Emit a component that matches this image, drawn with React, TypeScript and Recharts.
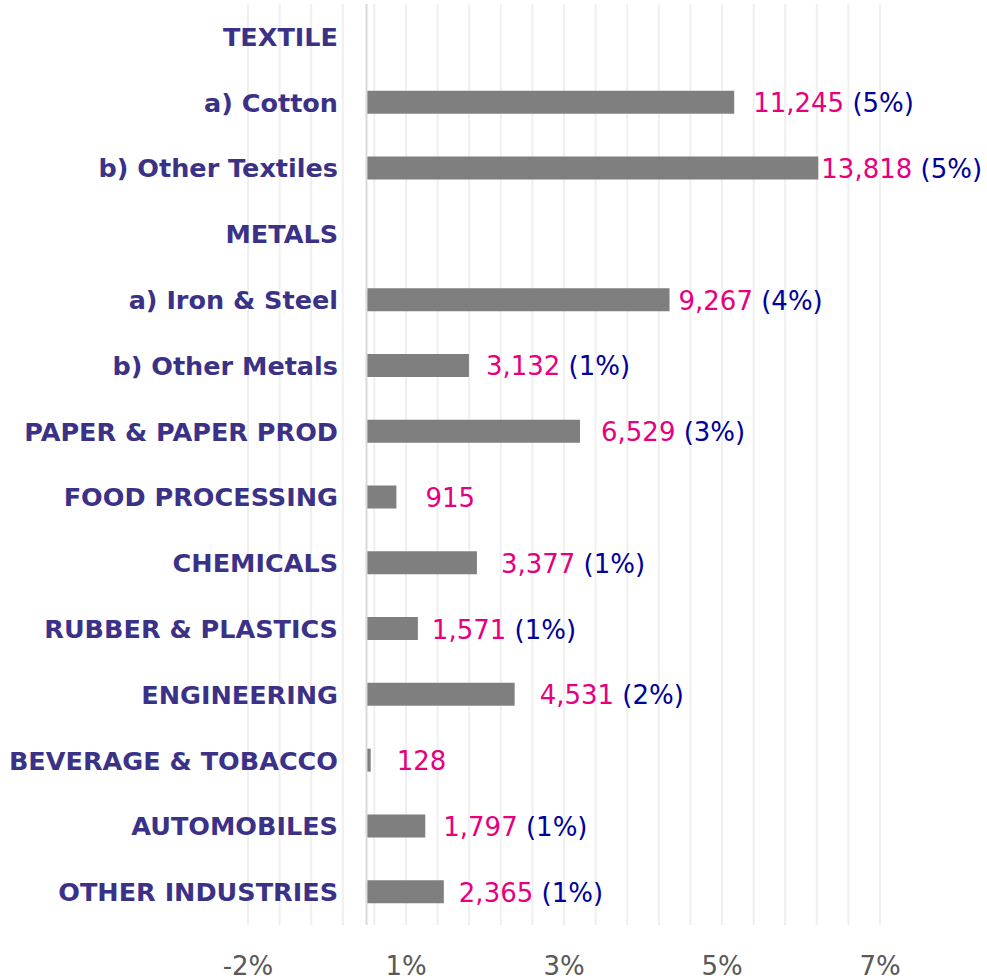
import React from "react";
import {
  BarChart,
  Bar,
  XAxis,
  YAxis,
  CartesianGrid,
  ReferenceLine,
  LabelList,
} from "recharts";

// ---------- data ----------
const CATEGORIES: string[] = [
  "TEXTILE",
  "a) Cotton",
  "b) Other Textiles",
  "METALS",
  "a) Iron & Steel",
  "b) Other Metals",
  "PAPER & PAPER PROD",
  "FOOD PROCESSING",
  "CHEMICALS",
  "RUBBER & PLASTICS",
  "ENGINEERING",
  "BEVERAGE & TOBACCO",
  "AUTOMOBILES",
  "OTHER INDUSTRIES",
];

const VALUES: (number | null)[] = [
  null, 11245, 13818, null, 9267, 3132, 6529, 915, 3377, 1571, 4531, 128, 1797, 2365,
];

const SHARE_LABELS: string[] = [
  "", "(5%)", "(5%)", "", "(4%)", "(1%)", "(3%)", "", "(1%)", "(1%)", "(2%)", "", "(1%)", "(1%)",
];

const TICK_LABELS: string[] = ["-2%", "1%", "3%", "5%", "7%"];

// axis extent (value units) and minor gridline step
const AXIS_MIN = -3624;
const AXIS_MAX = 15704;
const GRID_COUNT = 20;
const LABEL_EVERY = 5;

// ---------- derived ----------
const data = CATEGORIES.map((name, i) => ({
  name,
  value: VALUES[i],
  share: SHARE_LABELS[i],
}));

const GRID_STEP = (AXIS_MAX - AXIS_MIN) / GRID_COUNT;
const gridTicks = Array.from({ length: GRID_COUNT + 1 }, (_, i) => AXIS_MIN + i * GRID_STEP);

// ---------- styles ----------
const FONT = "'DejaVu Sans', Verdana, sans-serif";
const CAT_COLOR = "#3b3287";
const VALUE_COLOR = "#e6007e";
const SHARE_COLOR = "#00009a";
const TICK_COLOR = "#595959";
const BAR_COLOR = "#7f7f7f";
const GRID_COLOR = "#efefef";
const ZERO_COLOR = "#d9d9d9";
const CAT_RIGHT = 338;

// label padding (px) after each bar end, as placed in the original chart
const LABEL_PAD: Record<string, number> = {
  "a) Cotton": 19,
  "b) Other Textiles": 3,
  "a) Iron & Steel": 9,
  "b) Other Metals": 17,
  "PAPER & PAPER PROD": 21,
  "FOOD PROCESSING": 29,
  "CHEMICALS": 24,
  "RUBBER & PLASTICS": 14,
  "ENGINEERING": 25,
  "BEVERAGE & TOBACCO": 26,
  "AUTOMOBILES": 18,
  "OTHER INDUSTRIES": 15,
};

const fmt = (v: number) => v.toLocaleString("en-US");

const CategoryTick = (props: any) => {
  const { y, payload } = props;
  return (
    <text
      x={CAT_RIGHT}
      y={y}
      textAnchor="end"
      dominantBaseline="central"
      fontFamily={FONT}
      fontWeight="bold"
      fontSize={25.5}
      fill={CAT_COLOR}
    >
      {payload.value}
    </text>
  );
};

const ValueLabel = (props: any) => {
  const { x, y, width, height, value } = props;
  const idx = CATEGORIES.indexOf(value);
  if (idx < 0) return null;
  const v = VALUES[idx];
  if (v === null || v === undefined) return null;
  const share = SHARE_LABELS[idx];
  const pad = LABEL_PAD[value] ?? 15;
  return (
    <text
      x={Number(x) + Number(width) + pad}
      y={Number(y) + Number(height) / 2 + 1}
      dominantBaseline="central"
      fontFamily={FONT}
      fontSize={26}
    >
      <tspan fill={VALUE_COLOR}>{fmt(v)}</tspan>
      {share ? <tspan fill={SHARE_COLOR}>{" " + share}</tspan> : null}
    </text>
  );
};

export default function App() {
  return (
    <div style={{ position: "absolute", left: 0, top: 0, background: "#fff" }}>
      <BarChart
        width={987}
        height={980}
        data={data}
        layout="vertical"
        margin={{ top: 4, right: 107, bottom: 0, left: 0 }}
        barSize={23}
      >
        <CartesianGrid
          horizontal={false}
          vertical={true}
          stroke={GRID_COLOR}
          strokeWidth={2}
        />
        <XAxis
          type="number"
          domain={[AXIS_MIN, AXIS_MAX]}
          ticks={gridTicks}
          interval={0}
          allowDataOverflow={true}
          axisLine={false}
          tickLine={false}
          tickSize={0}
          tickMargin={32}
          height={55}
          tick={{ fill: TICK_COLOR, fontSize: 26, fontFamily: FONT }}
          tickFormatter={(_v: number, i: number) =>
            i % LABEL_EVERY === 0 ? TICK_LABELS[i / LABEL_EVERY] : ""
          }
        />
        <YAxis
          type="category"
          dataKey="name"
          width={248}
          axisLine={false}
          tickLine={false}
          interval={0}
          tick={<CategoryTick />}
        />
        <ReferenceLine x={0} stroke={ZERO_COLOR} strokeWidth={2} />
        <Bar dataKey="value" fill={BAR_COLOR} isAnimationActive={false}>
          <LabelList dataKey="name" content={<ValueLabel />} />
        </Bar>
      </BarChart>
    </div>
  );
}
